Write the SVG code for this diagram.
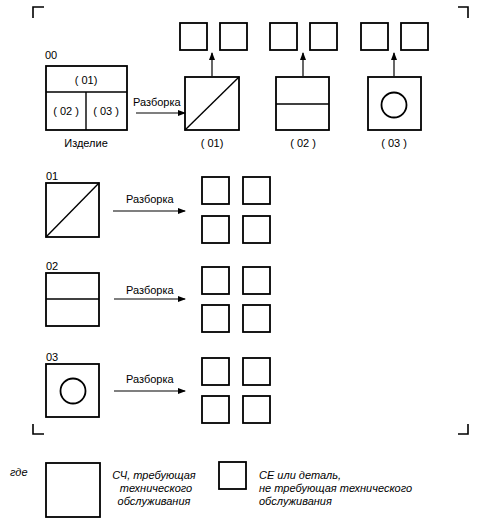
<svg xmlns="http://www.w3.org/2000/svg" width="483" height="529" viewBox="0 0 483 529">
<style>
.b{fill:none;stroke:#000;stroke-width:1.8}
.l{fill:none;stroke:#000;stroke-width:1.4}
.c{fill:none;stroke:#000;stroke-width:1.6}
.t{font-family:"Liberation Sans",Arial,sans-serif;font-size:11px;fill:#000}
.i{font-family:"Liberation Sans",Arial,sans-serif;font-size:11px;font-style:italic;fill:#000}
.m{text-anchor:middle}
.a{stroke:#000;stroke-width:1.2;fill:none;marker-end:url(#ah)}
</style>
<defs>
<marker id="ah" markerWidth="8" markerHeight="6" refX="7" refY="3" orient="auto" markerUnits="userSpaceOnUse">
<path d="M0,0 L8,3 L0,6 Z" fill="#000"/>
</marker>
</defs>
<g id="corners" class="c">
<path d="M33,18 V7 H44"/>
<path d="M458,7 H468 V18"/>
<path d="M33,424 V434 H44"/>
<path d="M458,434 H468 V424"/>
</g>
<g id="product">
<text class="t" x="45" y="59">00</text>
<rect class="b" x="46" y="66" width="81" height="64"/>
<path class="l" d="M46,92 H127 M86,92 V130"/>
<text class="t m" x="86" y="84">( 01)</text>
<text class="t m" x="66" y="115">( 02 )</text>
<text class="t m" x="106" y="115">( 03 )</text>
<text class="t m" x="86" y="147">Изделие</text>
</g>
<g id="top01">
<rect class="b" x="185" y="77" width="54" height="53"/>
<path class="l" d="M185,130 L239,77"/>
<text class="t m" x="212" y="147">( 01)</text>
<rect class="b" x="180" y="23" width="27" height="27"/>
<rect class="b" x="220" y="23" width="27" height="27"/>
</g>
<g id="top02">
<rect class="b" x="276" y="77" width="53" height="53"/>
<path class="l" d="M276,104 H329"/>
<text class="t m" x="303" y="147">( 02 )</text>
<rect class="b" x="270" y="23" width="27" height="27"/>
<rect class="b" x="310" y="23" width="27" height="27"/>
</g>
<g id="top03">
<rect class="b" x="368" y="77" width="53" height="53"/>
<circle class="b" cx="394" cy="105" r="12.5"/>
<text class="t m" x="394" y="147">( 03 )</text>
<rect class="b" x="361" y="23" width="27" height="27"/>
<rect class="b" x="401" y="23" width="27" height="27"/>
</g>
<g id="row01">
<text class="t" x="46" y="180">01</text>
<rect class="b" x="46" y="183" width="53" height="54"/>
<path class="l" d="M46,237 L99,183"/>
<rect class="b" x="202" y="177" width="27" height="27"/>
<rect class="b" x="243" y="177" width="27" height="27"/>
<rect class="b" x="202" y="216" width="27" height="27"/>
<rect class="b" x="243" y="216" width="27" height="27"/>
</g>
<g id="row02">
<text class="t" x="46" y="270">02</text>
<rect class="b" x="46" y="273" width="53" height="53"/>
<path class="l" d="M46,299 H99"/>
<rect class="b" x="202" y="267" width="27" height="27"/>
<rect class="b" x="243" y="267" width="27" height="27"/>
<rect class="b" x="202" y="305" width="27" height="27"/>
<rect class="b" x="243" y="305" width="27" height="27"/>
</g>
<g id="row03">
<text class="t" x="46" y="361">03</text>
<rect class="b" x="46" y="364" width="53" height="53"/>
<circle class="b" cx="73" cy="391" r="12.5"/>
<rect class="b" x="202" y="358" width="27" height="27"/>
<rect class="b" x="243" y="358" width="27" height="27"/>
<rect class="b" x="202" y="396" width="27" height="27"/>
<rect class="b" x="243" y="396" width="27" height="27"/>
</g>
<g id="connectors">
<path class="a" d="M136,113 H185"/>
<text class="t" x="133" y="106">Разборка</text>
<path class="a" d="M212,76 V53"/>
<path class="a" d="M303,76 V53"/>
<path class="a" d="M394,76 V53"/>
<path class="a" d="M113,211 H185"/>
<text class="t" x="126" y="203">Разборка</text>
<path class="a" d="M114,299 H185"/>
<text class="t" x="126" y="294">Разборка</text>
<path class="a" d="M114,391 H185"/>
<text class="t" x="126" y="383">Разборка</text>
</g>
<g id="legend">
<text class="i" x="10" y="476">где</text>
<rect class="b" x="46" y="463" width="54" height="54"/>
<text class="i m" x="154" y="479">СЧ, требующая</text>
<text class="i m" x="156" y="492">технического</text>
<text class="i m" x="154" y="505">обслуживания</text>
<rect class="b" x="219" y="462" width="27" height="27"/>
<text class="i" x="259" y="479">СЕ или деталь,</text>
<text class="i" x="259" y="492">не требующая технического</text>
<text class="i" x="259" y="505">обслуживания</text>
</g>
</svg>
